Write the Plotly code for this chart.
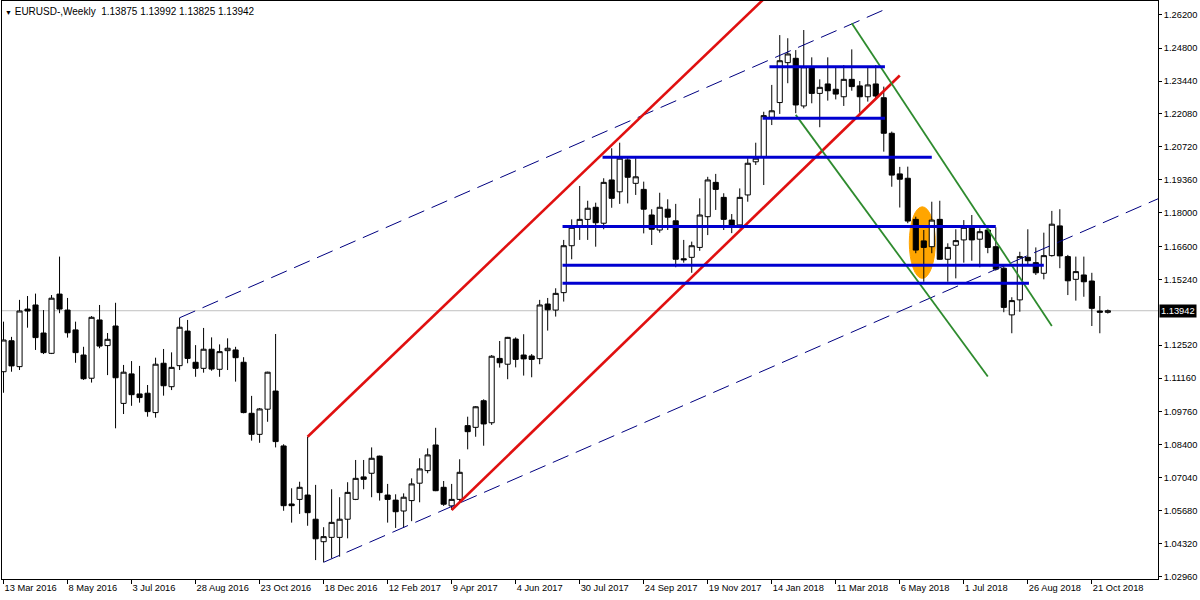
import pandas as pd
import plotly.graph_objects as go

# ---------------- data ----------------
dates = pd.date_range("2016-03-13", periods=139, freq="7D")

opens = [1.1142, 1.1270, 1.1163, 1.1401, 1.1418, 1.1302, 1.1218, 1.1463, 1.1397, 1.1315,
         1.1211, 1.1115, 1.1356, 1.1250, 1.1331, 1.1011, 1.1133, 1.1050, 1.1053, 1.0973,
         1.1177, 1.1080, 1.1167, 1.1310, 1.1181, 1.1156, 1.1235, 1.1152, 1.1229, 1.1232,
         1.1181, 1.0970, 1.0883, 1.0987, 1.1062, 1.0835, 1.0595, 1.0614, 1.0632, 1.0532,
         1.0439, 1.0457, 1.0457, 1.0532, 1.0614, 1.0707, 1.0722, 1.0793, 1.0632, 1.0611,
         1.0566, 1.0609, 1.0681, 1.0733, 1.0839, 1.0664, 1.0587, 1.0614, 1.0919, 1.0912,
         1.1022, 1.0931, 1.1197, 1.1173, 1.1277, 1.1211, 1.1207, 1.1196, 1.1422, 1.1397,
         1.1469, 1.1663, 1.1739, 1.1772, 1.1822, 1.1756, 1.1935, 1.1886, 1.2018, 1.1921,
         1.1896, 1.1790, 1.1728, 1.1814, 1.1766, 1.1609, 1.1615, 1.1656, 1.1783, 1.1925,
         1.1863, 1.1769, 1.1749, 1.1873, 1.2010, 1.2031, 1.2194, 1.2255, 1.2420, 1.2438,
         1.2241, 1.2401, 1.2293, 1.2332, 1.2310, 1.2279, 1.2351, 1.2324, 1.2279, 1.2332,
         1.2275, 1.2128, 1.1960, 1.1942, 1.1772, 1.1683, 1.1659, 1.1772, 1.1607, 1.1665,
         1.1687, 1.1739, 1.1690, 1.1728, 1.1659, 1.1570, 1.1377, 1.1439, 1.1615, 1.1593,
         1.1549, 1.1622, 1.1745, 1.1618, 1.1524, 1.1542, 1.1517, 1.1393, 1.13875]

highs = [1.1349, 1.1286, 1.1439, 1.1455, 1.1465, 1.1397, 1.1459, 1.1618, 1.1447, 1.1349,
         1.1245, 1.1372, 1.1418, 1.1302, 1.1427, 1.1170, 1.1186, 1.1166, 1.1087, 1.1200,
         1.1236, 1.1222, 1.1365, 1.1356, 1.1252, 1.1323, 1.1284, 1.1255, 1.1280, 1.1245,
         1.1202, 1.1042, 1.0992, 1.1142, 1.1298, 1.0842, 1.0660, 1.0687, 1.0873, 1.0674,
         1.0499, 1.0656, 1.0623, 1.0685, 1.0777, 1.0777, 1.0829, 1.0795, 1.0678, 1.0635,
         1.0639, 1.0701, 1.0784, 1.0825, 1.0910, 1.0690, 1.0678, 1.0780, 1.0956, 1.1000,
         1.1028, 1.1211, 1.1269, 1.1286, 1.1284, 1.1297, 1.1215, 1.1439, 1.1447, 1.1487,
         1.1687, 1.1772, 1.1910, 1.1849, 1.1841, 1.1942, 1.2066, 1.2089, 1.2031, 1.2025,
         1.1928, 1.1814, 1.1882, 1.1855, 1.1836, 1.1687, 1.1680, 1.1859, 1.1948, 1.1960,
         1.1880, 1.1794, 1.1900, 1.2025, 1.2089, 1.2217, 1.2328, 1.2534, 1.2521, 1.2472,
         1.2555, 1.2442, 1.2351, 1.2442, 1.2406, 1.2410, 1.2475, 1.2344, 1.2403, 1.2410,
         1.2321, 1.2135, 1.1989, 1.1990, 1.1783, 1.1728, 1.1845, 1.1849, 1.1673, 1.1731,
         1.1769, 1.1790, 1.1735, 1.1742, 1.1739, 1.1587, 1.1450, 1.1638, 1.1731, 1.1656,
         1.1717, 1.1807, 1.1814, 1.1625, 1.1618, 1.1618, 1.1551, 1.1455, 1.13992]

lows = [1.1055, 1.1142, 1.1149, 1.1324, 1.1232, 1.1215, 1.1215, 1.1384, 1.1283, 1.1179,
        1.1108, 1.1097, 1.1239, 1.1128, 1.0908, 1.0967, 1.1001, 1.1014, 1.0956, 1.0952,
        1.1043, 1.1066, 1.1149, 1.1177, 1.1121, 1.1138, 1.1146, 1.1121, 1.1149, 1.1101,
        1.0970, 1.0857, 1.0848, 1.0935, 1.0829, 1.0567, 1.0518, 1.0554, 1.0505, 1.0363,
        1.0354, 1.0370, 1.0377, 1.0453, 1.0611, 1.0656, 1.0623, 1.0609, 1.0518, 1.0496,
        1.0496, 1.0524, 1.0602, 1.0722, 1.0648, 1.0587, 1.0570, 1.0604, 1.0821, 1.0873,
        1.0836, 1.0922, 1.1159, 1.1111, 1.1160, 1.1126, 1.1119, 1.1173, 1.1312, 1.1370,
        1.1432, 1.1607, 1.1687, 1.1687, 1.1659, 1.1731, 1.1820, 1.1836, 1.1838, 1.1873,
        1.1714, 1.1666, 1.1717, 1.1728, 1.1574, 1.1593, 1.1551, 1.1642, 1.1707, 1.1811,
        1.1728, 1.1715, 1.1735, 1.1845, 1.1997, 1.1914, 1.2162, 1.2208, 1.2335, 1.2211,
        1.2231, 1.2252, 1.2153, 1.2263, 1.2268, 1.2241, 1.2304, 1.2213, 1.2259, 1.2268,
        1.2052, 1.1907, 1.1821, 1.1756, 1.1632, 1.1514, 1.1632, 1.1605, 1.1514, 1.1528,
        1.1593, 1.1601, 1.1574, 1.1632, 1.1560, 1.1388, 1.1301, 1.1390, 1.1587, 1.1542,
        1.1524, 1.1618, 1.1570, 1.1459, 1.1436, 1.1452, 1.1331, 1.1301, 1.13825]

closes = [1.1273, 1.1166, 1.1393, 1.1393, 1.1283, 1.1221, 1.1446, 1.1401, 1.1303, 1.1221,
          1.1113, 1.1367, 1.1248, 1.1276, 1.1117, 1.1140, 1.1047, 1.1035, 1.0977, 1.1173,
          1.1084, 1.1160, 1.1326, 1.1197, 1.1156, 1.1235, 1.1153, 1.1225, 1.1239, 1.1200,
          1.0973, 1.0883, 1.0988, 1.1140, 1.0853, 1.0588, 1.0588, 1.0664, 1.0559, 1.0451,
          1.0460, 1.0519, 1.0532, 1.0643, 1.0701, 1.0697, 1.0784, 1.0642, 1.0614, 1.0563,
          1.0623, 1.0678, 1.0740, 1.0798, 1.0650, 1.0594, 1.0614, 1.0726, 1.0894, 1.0997,
          1.0926, 1.1206, 1.1179, 1.1284, 1.1193, 1.1195, 1.1193, 1.1418, 1.1398, 1.1466,
          1.1663, 1.1739, 1.1772, 1.1818, 1.1758, 1.1925, 1.1859, 1.2025, 1.1946, 1.1948,
          1.1814, 1.1731, 1.1822, 1.1781, 1.1607, 1.1605, 1.1663, 1.1790, 1.1935, 1.1896,
          1.1772, 1.1740, 1.1863, 1.2004, 1.2025, 1.2201, 1.2221, 1.2428, 1.2456, 1.2245,
          1.2403, 1.2293, 1.2318, 1.2304, 1.2290, 1.2351, 1.2321, 1.2279, 1.2328, 1.2282,
          1.2128, 1.1955, 1.1938, 1.1765, 1.1645, 1.1656, 1.1769, 1.1607, 1.1656, 1.1684,
          1.1739, 1.1687, 1.1721, 1.1656, 1.1566, 1.1408, 1.1436, 1.1618, 1.1601, 1.1551,
          1.1622, 1.1752, 1.1621, 1.1518, 1.1556, 1.1514, 1.1404, 1.1388, 1.13942]

last_price = 1.13942
title_text = "EURUSD-,Weekly\u00a0\u00a01.13875 1.13992 1.13825 1.13942"

# trend lines (date, price anchors)
red_1_x = ["2016-12-04", "2018-01-07"]
red_1_y = [1.0873, 1.2683]
red_2_x = ["2017-04-09", "2018-05-06"]
red_2_y = [1.0570, 1.2367]
dash_up_x = ["2016-08-14", "2018-04-22"]
dash_up_y = [1.1365, 1.2638]
dash_lo_x = ["2016-12-18", "2018-12-30"]
dash_lo_y = [1.0354, 1.1882]
green_1_x = ["2018-03-25", "2018-09-16"]
green_1_y = [1.2583, 1.1331]
green_2_x = ["2018-02-04", "2018-07-22"]
green_2_y = [1.2204, 1.1122]

# horizontal support / resistance levels
level_prices = [1.2403, 1.2190, 1.2029, 1.1742, 1.1582, 1.1508]
level_starts = ["2018-01-12", "2018-01-06", "2017-08-19", "2017-07-15", "2017-07-15", "2017-07-15"]
level_ends = ["2018-04-23", "2018-04-23", "2018-06-03", "2018-07-29", "2018-09-09", "2018-08-27"]

# highlighted ellipse
ellipse_x = ["2018-05-14 08:00", "2018-06-06 02:00"]
ellipse_y = [1.1528, 1.1824]

# axis ticks
y_ticks = [1.26200, 1.24800, 1.23440, 1.22080, 1.20720, 1.19360, 1.18000, 1.16600, 1.15240,
           1.12520, 1.11160, 1.09760, 1.08400, 1.07040, 1.05680, 1.04320, 1.02960]
x_tick_dates = list(dates[::8])
x_tick_text = [f"{d.day} {d.strftime('%b %Y')}" for d in x_tick_dates]

# ---------------- figure ----------------
FONT = "Tahoma, 'Liberation Sans', Arial, sans-serif"

fig = go.Figure()

fig.add_trace(go.Candlestick(
    x=dates, open=opens, high=highs, low=lows, close=closes,
    increasing=dict(line=dict(color="black", width=1), fillcolor="white"),
    decreasing=dict(line=dict(color="black", width=1), fillcolor="black"),
    whiskerwidth=0, hoverinfo="skip", showlegend=False,
))


def add_line(xs, ys, color, width, dash="solid"):
    fig.add_trace(go.Scatter(x=xs, y=ys, mode="lines",
                             line=dict(color=color, width=width, dash=dash),
                             hoverinfo="skip", showlegend=False))


add_line(dash_up_x, dash_up_y, "#000080", 1, "17px,8px")
add_line(dash_lo_x, dash_lo_y, "#000080", 1, "17px,8px")
add_line(red_1_x, red_1_y, "#E01010", 2.6)
add_line(red_2_x, red_2_y, "#E01010", 2.6)
add_line(green_1_x, green_1_y, "#2E8B2E", 1.8)
add_line(green_2_x, green_2_y, "#2E8B2E", 1.8)
for p, s, e in zip(level_prices, level_starts, level_ends):
    add_line([s, e], [p, p], "#0000D0", 3)

shapes = [
    dict(type="line", xref="paper", x0=0, x1=1, yref="y", y0=last_price, y1=last_price,
         line=dict(color="#C0C0C0", width=1), layer="below"),
    dict(type="circle", xref="x", yref="y", x0=ellipse_x[0], x1=ellipse_x[1],
         y0=ellipse_y[0], y1=ellipse_y[1], fillcolor="#FFA500",
         line=dict(color="#FFA500", width=1), layer="below"),
]

annotations = [
    dict(xref="paper", yref="paper", x=0, y=1, xanchor="left", yanchor="top",
         xshift=1, yshift=-3, showarrow=False,
         text='<span style="font-size:7px">▼</span> ' + title_text,
         font=dict(family=FONT, size=10, color="black")),
    dict(xref="paper", yref="y", x=1, y=last_price, xanchor="left", yanchor="middle",
         xshift=1, showarrow=False, text=f"{last_price:.5f}", bgcolor="black",
         borderpad=1, font=dict(family=FONT, size=9.3, color="white")),
]

fig.update_layout(
    width=1200, height=600,
    margin=dict(l=2, r=42, t=1, b=21),
    paper_bgcolor="white", plot_bgcolor="white",
    showlegend=False,
    boxgap=0.2, boxgroupgap=0.2,
    font=dict(family=FONT, size=9.3, color="black"),
    shapes=shapes,
    annotations=annotations,
    xaxis=dict(
        type="date",
        range=["2016-03-11 16:00", "2018-12-17 21:00"],
        rangeslider=dict(visible=False),
        showgrid=False, zeroline=False,
        showline=True, linecolor="black", linewidth=1, mirror=True,
        ticks="outside", ticklen=4, tickcolor="black", tickwidth=1,
        tickvals=x_tick_dates, ticktext=x_tick_text,
        ticklabelposition="outside right",
        tickfont=dict(family=FONT, size=9.3, color="black"),
    ),
    yaxis=dict(
        side="right",
        range=[1.02848, 1.26750],
        showgrid=False, zeroline=False,
        showline=True, linecolor="black", linewidth=1, mirror=True,
        ticks="outside", ticklen=3, tickcolor="black", tickwidth=1,
        tickvals=y_ticks, ticktext=[f"{v:.5f}" for v in y_ticks],
        tickfont=dict(family=FONT, size=9.3, color="black"),
    ),
)

# remove the browser's default page margin so the 1200x600 figure fills the window
fig.write_html("out.html",
               config={"displayModeBar": False},
               post_script="document.body.style.margin='0';document.body.style.overflow='hidden';")
